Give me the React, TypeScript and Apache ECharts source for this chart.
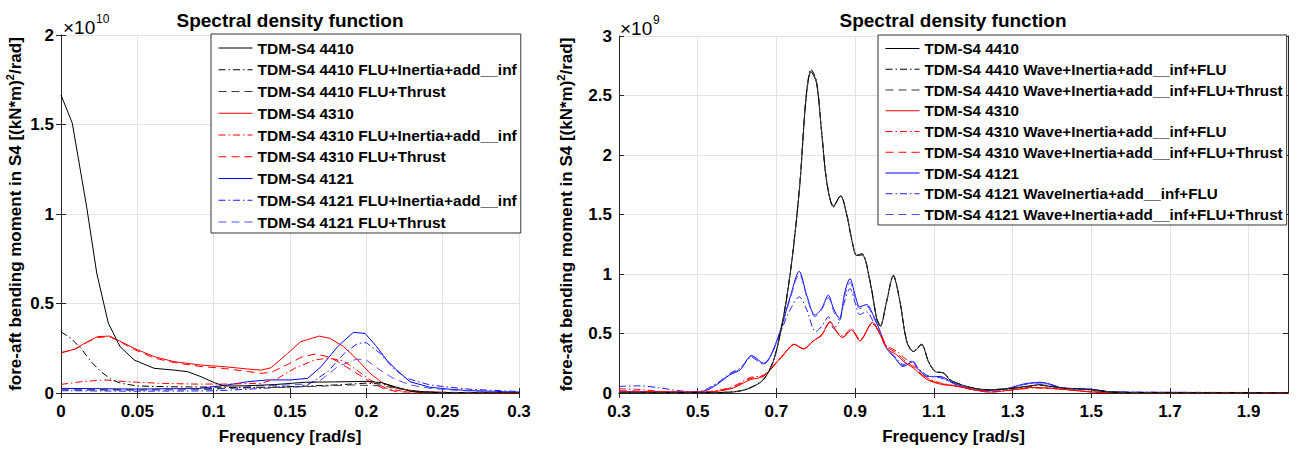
import React, { useEffect, useRef } from "react";
import * as echarts from "echarts";

type P = [number, number][];

// ---------- Left panel (values in 1e10 (kN*m)^2/rad) ----------
const L_X_TICKS = { min: 0, max: 0.3, interval: 0.05 };
const L_Y_TICKS = { min: 0, max: 2, interval: 0.5 };

const L_4410: P = [[0,1.665],[0.0074,1.507],[0.0168,1.04],[0.0234,0.67],[0.031,0.39],[0.0387,0.259],[0.048,0.184],[0.061,0.138],[0.074,0.128],[0.083,0.119],[0.0917,0.091],[0.1004,0.058],[0.107,0.039],[0.12,0.04],[0.14,0.047],[0.16,0.06],[0.18,0.062],[0.2,0.065],[0.21,0.058],[0.22,0.032],[0.23,0.008],[0.25,0.002],[0.3,0]];
const L_4410_FI: P = [[0,0.342],[0.0066,0.305],[0.0131,0.249],[0.0197,0.175],[0.0262,0.119],[0.0328,0.076],[0.0393,0.054],[0.0502,0.039],[0.07,0.035],[0.1,0.033],[0.12,0.03],[0.14,0.033],[0.16,0.038],[0.18,0.045],[0.2,0.055],[0.21,0.05],[0.22,0.03],[0.23,0.01],[0.25,0.002],[0.3,0]];
const L_4410_FT: P = [[0,0.017],[0.05,0.02],[0.1,0.025],[0.13,0.03],[0.16,0.035],[0.19,0.045],[0.21,0.04],[0.22,0.025],[0.24,0.005],[0.3,0]];
const L_4310: P = [[0,0.225],[0.0087,0.244],[0.0175,0.287],[0.024,0.315],[0.0317,0.318],[0.0393,0.287],[0.048,0.249],[0.0611,0.203],[0.0742,0.175],[0.0917,0.156],[0.107,0.147],[0.1223,0.134],[0.131,0.128],[0.1376,0.141],[0.1485,0.222],[0.157,0.287],[0.1692,0.318],[0.1762,0.305],[0.185,0.26],[0.1937,0.19],[0.2024,0.11],[0.211,0.054],[0.22,0.026],[0.2345,0.007],[0.26,0.002],[0.3,0]];
const L_4310_FI: P = [[0,0.048],[0.013,0.063],[0.0284,0.073],[0.0437,0.063],[0.065,0.054],[0.087,0.05],[0.109,0.05],[0.131,0.054],[0.142,0.082],[0.153,0.138],[0.166,0.184],[0.1748,0.195],[0.185,0.18],[0.1937,0.128],[0.2024,0.073],[0.213,0.026],[0.225,0.008],[0.25,0.002],[0.3,0]];
const L_4310_FT: P = [[0,0.225],[0.0087,0.243],[0.0175,0.285],[0.024,0.31],[0.0317,0.315],[0.0393,0.283],[0.048,0.243],[0.0611,0.195],[0.0742,0.17],[0.0917,0.148],[0.107,0.137],[0.1223,0.12],[0.131,0.11],[0.1376,0.115],[0.1485,0.16],[0.1575,0.2],[0.1665,0.218],[0.1762,0.2],[0.185,0.156],[0.1937,0.11],[0.2024,0.063],[0.211,0.026],[0.22,0.007],[0.24,0.002],[0.3,0]];
const L_4121: P = [[0,0.026],[0.05,0.022],[0.09,0.025],[0.1092,0.045],[0.1223,0.063],[0.1354,0.073],[0.1507,0.073],[0.1616,0.082],[0.1703,0.147],[0.1812,0.259],[0.1915,0.339],[0.1991,0.333],[0.2068,0.259],[0.2133,0.184],[0.2199,0.128],[0.2286,0.063],[0.2417,0.032],[0.2548,0.021],[0.268,0.013],[0.3,0.005]];
const L_4121_FI: P = [[0,0.013],[0.05,0.01],[0.1,0.012],[0.12,0.02],[0.14,0.03],[0.155,0.035],[0.1616,0.045],[0.1747,0.119],[0.1856,0.222],[0.1943,0.277],[0.2,0.281],[0.209,0.222],[0.2177,0.138],[0.2264,0.082],[0.2417,0.045],[0.2548,0.032],[0.268,0.021],[0.3,0.008]];
const L_4121_FT: P = [[0,0.017],[0.05,0.015],[0.1,0.02],[0.13,0.04],[0.15,0.045],[0.16,0.05],[0.1703,0.073],[0.1812,0.147],[0.1937,0.19],[0.2,0.184],[0.209,0.128],[0.2177,0.082],[0.2286,0.045],[0.2417,0.026],[0.263,0.013],[0.3,0.004]];

// ---------- Right panel (values in 1e9 (kN*m)^2/rad) ----------
const R_X_RANGE = { min: 0.3, max: 2.0 };
const R_X_TICKS = [0.3, 0.5, 0.7, 0.9, 1.1, 1.3, 1.5, 1.7, 1.9];
const R_Y_TICKS = { min: 0, max: 3, interval: 0.5 };

const R_4410: P = [[0.3,0.002],[0.4,0.002],[0.5,0.001],[0.55,0.003],[0.6,0.012],[0.633,0.042],[0.667,0.111],[0.692,0.265],[0.709,0.487],[0.726,0.794],[0.743,1.211],[0.76,1.768],[0.775,2.464],[0.788,2.7],[0.802,2.604],[0.815,2.186],[0.828,1.768],[0.845,1.573],[0.863,1.657],[0.879,1.49],[0.891,1.295],[0.904,1.155],[0.918,1.16],[0.938,0.933],[0.955,0.62],[0.964,0.56],[0.98,0.766],[0.997,0.983],[1.014,0.766],[1.031,0.432],[1.048,0.348],[1.069,0.404],[1.086,0.265],[1.103,0.181],[1.125,0.167],[1.141,0.11],[1.158,0.084],[1.192,0.047],[1.234,0.028],[1.285,0.036],[1.336,0.056],[1.37,0.07],[1.395,0.056],[1.438,0.04],[1.497,0.028],[1.556,0.008],[1.65,0.003],[1.8,0.002],[2.0,0.001]];
const R_4410_WIF: P = [[0.3,0.003],[0.4,0.002],[0.5,0.002],[0.55,0.004],[0.6,0.014],[0.633,0.045],[0.667,0.115],[0.692,0.27],[0.709,0.49],[0.726,0.8],[0.743,1.22],[0.76,1.78],[0.775,2.48],[0.788,2.72],[0.802,2.62],[0.815,2.2],[0.828,1.78],[0.845,1.56],[0.863,1.66],[0.879,1.5],[0.891,1.3],[0.904,1.16],[0.918,1.17],[0.938,0.94],[0.955,0.63],[0.964,0.57],[0.98,0.77],[0.997,0.99],[1.014,0.77],[1.031,0.44],[1.048,0.35],[1.069,0.41],[1.086,0.27],[1.103,0.185],[1.125,0.17],[1.141,0.115],[1.158,0.085],[1.192,0.048],[1.234,0.028],[1.285,0.034],[1.336,0.052],[1.37,0.065],[1.395,0.054],[1.438,0.04],[1.497,0.027],[1.556,0.008],[1.65,0.003],[1.8,0.002],[2.0,0.001]];
const R_4410_WIFT: P = [[0.3,0.002],[0.4,0.002],[0.5,0.001],[0.55,0.003],[0.6,0.013],[0.633,0.043],[0.667,0.113],[0.692,0.268],[0.709,0.488],[0.726,0.797],[0.743,1.215],[0.76,1.775],[0.775,2.47],[0.788,2.71],[0.802,2.61],[0.815,2.19],[0.828,1.77],[0.845,1.565],[0.863,1.655],[0.879,1.495],[0.891,1.3],[0.904,1.158],[0.918,1.165],[0.938,0.936],[0.955,0.625],[0.964,0.565],[0.98,0.768],[0.997,0.986],[1.014,0.768],[1.031,0.436],[1.048,0.35],[1.069,0.407],[1.086,0.268],[1.103,0.183],[1.125,0.168],[1.141,0.112],[1.158,0.084],[1.192,0.047],[1.234,0.027],[1.285,0.035],[1.336,0.054],[1.37,0.067],[1.395,0.055],[1.438,0.04],[1.497,0.027],[1.556,0.008],[1.65,0.003],[1.8,0.002],[2.0,0.001]];
const R_4310: P = [[0.3,0.01],[0.4,0.008],[0.5,0.006],[0.548,0.014],[0.59,0.042],[0.633,0.111],[0.667,0.139],[0.692,0.223],[0.718,0.32],[0.745,0.409],[0.769,0.37],[0.794,0.437],[0.815,0.487],[0.836,0.599],[0.853,0.515],[0.868,0.465],[0.891,0.529],[0.912,0.437],[0.944,0.593],[0.964,0.487],[0.98,0.376],[1.006,0.32],[1.023,0.265],[1.048,0.209],[1.082,0.115],[1.116,0.075],[1.158,0.056],[1.2,0.028],[1.243,0.008],[1.302,0.028],[1.353,0.047],[1.395,0.04],[1.438,0.028],[1.505,0.008],[1.6,0.003],[2.0,0.001]];
const R_4310_WIF: P = [[0.3,0.035],[0.35,0.03],[0.4,0.015],[0.5,0.008],[0.548,0.02],[0.59,0.055],[0.633,0.13],[0.667,0.15],[0.692,0.23],[0.718,0.325],[0.745,0.41],[0.769,0.375],[0.794,0.44],[0.815,0.49],[0.836,0.59],[0.853,0.52],[0.868,0.48],[0.891,0.54],[0.912,0.45],[0.944,0.58],[0.964,0.5],[0.98,0.4],[1.006,0.35],[1.023,0.3],[1.048,0.235],[1.082,0.13],[1.116,0.085],[1.158,0.06],[1.2,0.03],[1.243,0.01],[1.302,0.025],[1.353,0.042],[1.395,0.038],[1.438,0.028],[1.505,0.01],[1.6,0.004],[2.0,0.002]];
const R_4310_WIFT: P = [[0.3,0.015],[0.4,0.01],[0.5,0.006],[0.548,0.016],[0.59,0.048],[0.633,0.12],[0.667,0.145],[0.692,0.225],[0.718,0.32],[0.745,0.405],[0.769,0.372],[0.794,0.44],[0.815,0.485],[0.836,0.595],[0.853,0.515],[0.868,0.47],[0.891,0.53],[0.912,0.44],[0.944,0.59],[0.964,0.495],[0.98,0.39],[1.006,0.335],[1.023,0.28],[1.048,0.22],[1.082,0.12],[1.116,0.08],[1.158,0.058],[1.2,0.028],[1.243,0.008],[1.302,0.027],[1.353,0.045],[1.395,0.04],[1.438,0.028],[1.505,0.008],[1.6,0.003],[2.0,0.001]];
const R_4121: P = [[0.3,0.01],[0.379,0.012],[0.464,0.008],[0.514,0.014],[0.548,0.07],[0.582,0.153],[0.608,0.195],[0.637,0.315],[0.65,0.29],[0.667,0.25],[0.684,0.306],[0.709,0.515],[0.735,0.808],[0.758,1.022],[0.777,0.822],[0.798,0.654],[0.815,0.71],[0.832,0.822],[0.845,0.71],[0.86,0.627],[0.874,0.849],[0.887,0.961],[0.9,0.822],[0.912,0.724],[0.929,0.743],[0.946,0.654],[0.964,0.515],[0.98,0.376],[1.0,0.3],[1.022,0.223],[1.046,0.262],[1.06,0.2],[1.085,0.139],[1.115,0.139],[1.15,0.084],[1.2,0.028],[1.243,0.022],[1.285,0.036],[1.328,0.075],[1.37,0.09],[1.395,0.075],[1.429,0.04],[1.497,0.033],[1.556,0.008],[1.7,0.005],[2.0,0.003]];
const R_4121_WIF: P = [[0.3,0.055],[0.35,0.06],[0.4,0.045],[0.45,0.02],[0.5,0.01],[0.548,0.08],[0.582,0.165],[0.608,0.21],[0.637,0.3],[0.65,0.275],[0.667,0.24],[0.684,0.3],[0.709,0.5],[0.735,0.7],[0.758,0.808],[0.777,0.7],[0.8,0.515],[0.815,0.56],[0.832,0.64],[0.845,0.543],[0.86,0.6],[0.874,0.78],[0.887,0.877],[0.9,0.76],[0.912,0.66],[0.929,0.682],[0.946,0.6],[0.964,0.49],[0.98,0.38],[1.0,0.31],[1.022,0.24],[1.046,0.27],[1.06,0.21],[1.085,0.145],[1.115,0.13],[1.15,0.08],[1.2,0.03],[1.243,0.022],[1.285,0.035],[1.328,0.07],[1.37,0.085],[1.395,0.07],[1.429,0.04],[1.497,0.03],[1.556,0.01],[1.7,0.006],[2.0,0.004]];
const R_4121_WIFT: P = [[0.3,0.02],[0.379,0.015],[0.464,0.01],[0.514,0.015],[0.548,0.075],[0.582,0.16],[0.608,0.2],[0.637,0.31],[0.65,0.285],[0.667,0.245],[0.684,0.3],[0.709,0.51],[0.735,0.79],[0.758,1.0],[0.777,0.81],[0.798,0.64],[0.815,0.7],[0.832,0.8],[0.845,0.69],[0.86,0.61],[0.874,0.82],[0.887,0.93],[0.9,0.8],[0.912,0.71],[0.929,0.73],[0.946,0.64],[0.964,0.51],[0.98,0.38],[1.0,0.305],[1.022,0.23],[1.046,0.265],[1.06,0.205],[1.085,0.14],[1.115,0.135],[1.15,0.08],[1.2,0.028],[1.243,0.022],[1.285,0.035],[1.328,0.072],[1.37,0.087],[1.395,0.072],[1.429,0.04],[1.497,0.032],[1.556,0.008],[1.7,0.005],[2.0,0.003]];

const LEFT_NAMES = [
  "TDM-S4 4410", "TDM-S4 4410 FLU+Inertia+add__inf", "TDM-S4 4410 FLU+Thrust",
  "TDM-S4 4310", "TDM-S4 4310 FLU+Inertia+add__inf", "TDM-S4 4310 FLU+Thrust",
  "TDM-S4 4121", "TDM-S4 4121 FLU+Inertia+add__inf", "TDM-S4 4121 FLU+Thrust",
];
const RIGHT_NAMES = [
  "TDM-S4 4410", "TDM-S4 4410 Wave+Inertia+add__inf+FLU", "TDM-S4 4410 Wave+Inertia+add__inf+FLU+Thrust",
  "TDM-S4 4310", "TDM-S4 4310 Wave+Inertia+add__inf+FLU", "TDM-S4 4310 Wave+Inertia+add__inf+FLU+Thrust",
  "TDM-S4 4121", "TDM-S4 4121 WaveInertia+add__inf+FLU", "TDM-S4 4121 Wave+Inertia+add__inf+FLU+Thrust",
];
const LEFT_DATA = [L_4410, L_4410_FI, L_4410_FT, L_4310, L_4310_FI, L_4310_FT, L_4121, L_4121_FI, L_4121_FT];
const RIGHT_DATA = [R_4410, R_4410_WIF, R_4410_WIFT, R_4310, R_4310_WIF, R_4310_WIFT, R_4121, R_4121_WIF, R_4121_WIFT];

const TITLE = "Spectral density function";
const X_NAME = "Frequency [rad/s]";
const Y_NAME = "fore-aft bending moment in S4 [(kN*m){s|2}/rad]";

const FONT = '"Liberation Sans", Arial, Helvetica, sans-serif';
const COLORS = ["#000000", "#000000", "#3a3a3a", "#ff0000", "#ff0000", "#ff0000", "#0000ff", "#1a1aff", "#5050ff"];
const DASHDOT = [7, 3, 1.5, 3];
const DASH = [8, 5];
const TYPES: any[] = ["solid", DASHDOT, DASH, "solid", DASHDOT, DASH, "solid", DASHDOT, DASH];

export default function App() {
  const ref = useRef<HTMLDivElement>(null);
  useEffect(() => {
    document.body.style.margin = "0";
    const chart = echarts.init(ref.current!, null, { renderer: "svg" });

    const axisLine = { show: true, lineStyle: { color: "#262626", width: 1 } };
    const tick = { show: true, inside: true, length: 5, lineStyle: { color: "#262626" } };
    const label = { fontFamily: FONT, fontWeight: "bold" as const, fontSize: 17, color: "#000" };
    const split = { show: true, lineStyle: { color: "#e3e3e3", width: 1 } };
    const nameStyle = { fontFamily: FONT, fontWeight: "bold" as const, fontSize: 17, color: "#000" };
    const yNameStyle = {
      ...nameStyle,
      lineHeight: 22,
      rich: { s: { fontFamily: FONT, fontWeight: "bold", fontSize: 11, verticalAlign: "top", lineHeight: 22, color: "#000" } },
    };

    const mkSeries = (names: string[], data: P[], xi: number, yi: number) =>
      names.map((n, i) => ({
        name: n,
        type: "line",
        xAxisIndex: xi,
        yAxisIndex: yi,
        data: data[i],
        symbol: "none",
        showSymbol: false,
        smooth: xi === 2 ? 0.3 : false,
        lineStyle: { color: COLORS[i], width: 1, type: TYPES[i] },
        itemStyle: { color: COLORS[i] },
        emphasis: { disabled: true },
        z: 10 - Math.floor(i / 3),
      }));

    const legendBase = {
      orient: "vertical" as const,
      itemWidth: 34,
      itemHeight: 16,
      itemGap: 5.75,
      padding: [6, 4, 3, 7],
      borderColor: "#333",
      borderWidth: 1,
      backgroundColor: "#fff",
      selectedMode: false,
      itemStyle: { opacity: 0 },
      lineStyle: { width: 1 },
    };
    const legendText = (size: number) => ({ fontFamily: FONT, fontWeight: "bold" as const, fontSize: size, color: "#000" });

    const option: any = {
      animation: false,
      backgroundColor: "#fff",
      grid: [
        { left: 61, top: 35, width: 458, height: 358 },
        { left: 619, top: 36, width: 669, height: 359 },
      ],
      xAxis: [
        { type: "value", gridIndex: 0, position: "bottom", ...L_X_TICKS, axisLine, axisTick: tick, axisLabel: { ...label, margin: 10 }, splitLine: split, name: X_NAME, nameLocation: "middle", nameGap: 35, nameTextStyle: nameStyle },
        { type: "value", gridIndex: 0, position: "top", ...L_X_TICKS, axisLine, axisTick: tick, axisLabel: { show: false }, splitLine: { show: false } },
        { type: "value", gridIndex: 1, position: "bottom", ...R_X_RANGE, axisLine, axisTick: { ...tick, customValues: R_X_TICKS }, axisLabel: { ...label, margin: 10, customValues: R_X_TICKS }, splitLine: split, name: X_NAME, nameLocation: "middle", nameGap: 35, nameTextStyle: nameStyle },
        { type: "value", gridIndex: 1, position: "top", ...R_X_RANGE, axisLine, axisTick: { ...tick, customValues: R_X_TICKS }, axisLabel: { show: false }, splitLine: { show: false } },
      ],
      yAxis: [
        { type: "value", gridIndex: 0, position: "left", ...L_Y_TICKS, axisLine, axisTick: tick, axisLabel: { ...label, margin: 7 }, splitLine: split, name: Y_NAME, nameLocation: "middle", nameGap: 34, nameTextStyle: yNameStyle },
        { type: "value", gridIndex: 0, position: "right", ...L_Y_TICKS, axisLine, axisTick: tick, axisLabel: { show: false }, splitLine: { show: false } },
        { type: "value", gridIndex: 1, position: "left", ...R_Y_TICKS, axisLine, axisTick: tick, axisLabel: { ...label, margin: 7 }, splitLine: split, name: Y_NAME, nameLocation: "middle", nameGap: 34, nameTextStyle: yNameStyle },
        { type: "value", gridIndex: 1, position: "right", ...R_Y_TICKS, axisLine, axisTick: tick, axisLabel: { show: false }, splitLine: { show: false } },
      ],
      legend: [
        { ...legendBase, left: 211, top: 34, data: LEFT_NAMES, textStyle: legendText(15.5) },
        { ...legendBase, left: 878, top: 35, data: RIGHT_NAMES, textStyle: legendText(15.2) },
      ],
      graphic: [
        { type: "text", x: 290, y: 20, style: { text: TITLE, align: "center", verticalAlign: "middle", font: `bold 19px ${FONT}`, fill: "#000" } },
        { type: "text", x: 953, y: 20, style: { text: TITLE, align: "center", verticalAlign: "middle", font: `bold 19px ${FONT}`, fill: "#000" } },
        { type: "text", x: 63, y: 27, style: { text: "×10", align: "left", verticalAlign: "middle", font: `19px ${FONT}`, fill: "#000" } },
        { type: "text", x: 96, y: 19, style: { text: "10", align: "left", verticalAlign: "middle", font: `12px ${FONT}`, fill: "#000" } },
        { type: "text", x: 620, y: 28, style: { text: "×10", align: "left", verticalAlign: "middle", font: `19px ${FONT}`, fill: "#000" } },
        { type: "text", x: 653, y: 20, style: { text: "9", align: "left", verticalAlign: "middle", font: `12px ${FONT}`, fill: "#000" } },
      ],
      series: [...mkSeries(LEFT_NAMES, LEFT_DATA, 0, 0), ...mkSeries(RIGHT_NAMES, RIGHT_DATA, 2, 2)],
    };
    chart.setOption(option);
    return () => chart.dispose();
  }, []);
  return <div ref={ref} style={{ width: 1298, height: 450 }} />;
}
